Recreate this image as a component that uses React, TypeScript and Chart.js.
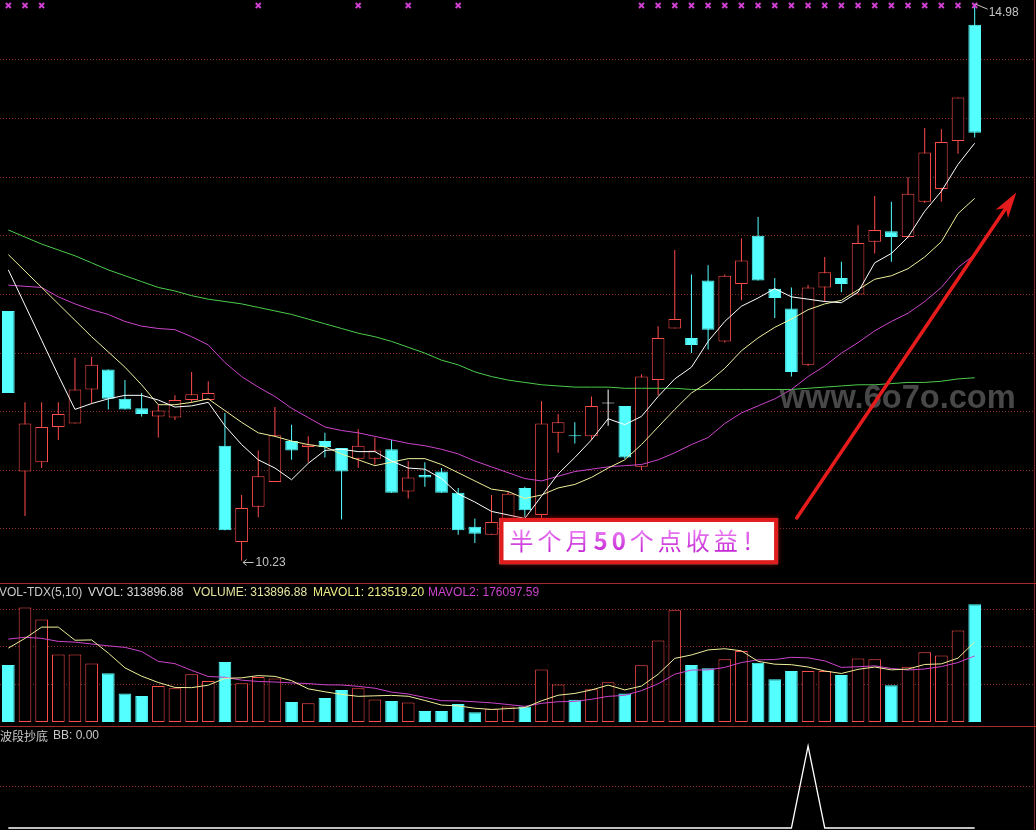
import React, { useEffect, useRef } from 'react';
import { Chart, registerables } from 'chart.js';

Chart.register(...registerables);

// ---------------- data ----------------
const SLOTS = 62;
const labels = Array.from({ length: SLOTS }, (_, i) => String(i + 1));

const openP = [12.36, 10.99, 11.07, 11.37, 11.40, 11.69, 11.86, 11.61, 11.53, 11.46,
  11.45, 11.60, 11.60, 11.21, 10.39, 10.69, 10.90, 11.25, 11.20, 11.25,
  11.19, 11.10, 11.10, 11.18, 10.82, 10.96, 10.99, 10.81, 10.52, 10.45,
  10.58, 10.85, 10.62, 11.32, 11.30, 11.29, 11.57, 11.55, 11.03, 11.77,
  12.21, 12.13, 12.62, 12.10, 12.59, 13.00, 12.55, 12.38, 11.90, 12.56,
  12.64, 12.50, 12.95, 13.04, 12.99, 13.29, 13.40, 13.81, 14.80];
const closeP = [11.66, 11.40, 11.37, 11.48, 11.69, 11.90, 11.61, 11.52, 11.48, 11.51,
  11.60, 11.65, 11.66, 10.49, 10.68, 10.95, 11.30, 11.17, 11.22, 11.20,
  10.99, 11.21, 11.17, 10.81, 10.94, 10.94, 10.81, 10.49, 10.46, 10.56,
  10.80, 10.66, 11.40, 11.41, 11.29, 11.55, 11.57, 11.11, 11.80, 12.13,
  12.29, 12.07, 12.20, 12.66, 12.79, 12.62, 12.47, 11.84, 12.56, 12.69,
  12.59, 12.94, 13.05, 12.99, 13.36, 13.71, 13.80, 14.18, 13.88];
const highP = [12.36, 11.58, 11.58, 11.58, 11.96, 11.97, 11.86, 11.77, 11.66, 11.56,
  11.64, 11.84, 11.76, 11.49, 10.79, 11.17, 11.54, 11.39, 11.29, 11.32,
  11.19, 11.35, 11.28, 11.26, 11.08, 11.07, 11.02, 10.85, 10.59, 10.79,
  10.82, 10.86, 11.59, 11.48, 11.41, 11.63, 11.69, 11.55, 11.82, 12.23,
  12.88, 12.67, 12.75, 12.67, 12.98, 13.16, 12.64, 12.56, 12.58, 12.82,
  12.78, 13.09, 13.34, 13.29, 13.50, 13.92, 13.91, 14.18, 14.98];
const lowP = [11.66, 10.61, 11.02, 11.26, 11.40, 11.57, 11.52, 11.52, 11.46, 11.28,
  11.43, 11.58, 11.60, 10.49, 10.23, 10.60, 10.90, 11.09, 11.07, 11.11,
  10.58, 11.02, 11.05, 10.81, 10.76, 10.86, 10.81, 10.45, 10.38, 10.45,
  10.55, 10.60, 10.55, 11.15, 11.23, 11.26, 11.38, 11.10, 11.00, 11.64,
  12.21, 12.00, 12.03, 12.09, 12.45, 12.62, 12.30, 11.80, 11.89, 12.44,
  12.52, 12.50, 12.85, 12.78, 12.98, 13.28, 13.29, 13.70, 13.84];

const ma5 = [12.71, 12.41, 12.11, 11.81, 11.52, 11.57, 11.61, 11.64, 11.64, 11.60,
  11.54, 11.55, 11.58, 11.38, 11.22, 11.09, 11.02, 10.92, 11.06, 11.17,
  11.18, 11.16, 11.16, 11.08, 11.02, 11.01, 10.93, 10.80, 10.73, 10.65,
  10.62, 10.59, 10.78, 10.97, 11.11, 11.26, 11.44, 11.39, 11.46, 11.63,
  11.78, 11.88, 12.10, 12.27, 12.40, 12.47, 12.55, 12.48, 12.46, 12.44,
  12.43, 12.52, 12.77, 12.85, 12.99, 13.21, 13.38, 13.61, 13.79];
const ma10 = [12.84, 12.70, 12.56, 12.42, 12.28, 12.14, 12.01, 11.88, 11.73, 11.56,
  11.56, 11.58, 11.61, 11.51, 11.41, 11.32, 11.29, 11.25, 11.22, 11.20,
  11.14, 11.09, 11.04, 11.07, 11.10, 11.10, 11.05, 10.98, 10.91, 10.84,
  10.82, 10.76, 10.79, 10.85, 10.88, 10.94, 11.02, 11.09, 11.22, 11.37,
  11.52, 11.66, 11.75, 11.87, 12.02, 12.13, 12.22, 12.29, 12.37, 12.42,
  12.45, 12.54, 12.63, 12.66, 12.72, 12.82, 12.95, 13.19, 13.32];
const ma20 = [12.58, 12.57, 12.56, 12.48, 12.42, 12.37, 12.33, 12.27, 12.23, 12.21,
  12.20, 12.14, 12.07, 11.92, 11.80, 11.71, 11.63, 11.53, 11.45, 11.37,
  11.34, 11.32, 11.29, 11.26, 11.23, 11.21, 11.18, 11.14, 11.08, 11.03,
  10.98, 10.93, 10.91, 10.95, 10.99, 11.01, 11.03, 11.04, 11.05, 11.09,
  11.15, 11.22, 11.28, 11.40, 11.49, 11.55, 11.61, 11.69, 11.80, 11.89,
  12.00, 12.09, 12.19, 12.27, 12.34, 12.44, 12.56, 12.73, 12.84];
const ma60 = [13.05, 12.99, 12.93, 12.88, 12.83, 12.77, 12.71, 12.66, 12.61, 12.56,
  12.53, 12.49, 12.46, 12.44, 12.42, 12.39, 12.36, 12.33, 12.29, 12.25,
  12.21, 12.17, 12.14, 12.10, 12.05, 12.00, 11.94, 11.90, 11.84, 11.80,
  11.77, 11.75, 11.73, 11.72, 11.71, 11.71, 11.71, 11.70, 11.70, 11.70,
  11.70, 11.69, 11.69, 11.69, 11.69, 11.69, 11.69, 11.69, 11.70, 11.71,
  11.72, 11.73, 11.73, 11.74, 11.75, 11.75, 11.76, 11.78, 11.79];

const volume = [152000, 305000, 273000, 180000, 180000, 156000, 130000, 76000, 69000, 96000,
  90000, 127000, 109000, 160000, 103000, 120000, 116000, 53000, 50000, 64000,
  85000, 90000, 60000, 56000, 52000, 29000, 29000, 48000, 26000, 35000,
  41000, 41000, 140000, 100000, 59000, 87000, 106000, 76000, 151000, 217000,
  298000, 152000, 143000, 167000, 189000, 158000, 114000, 136000, 136000, 136000,
  125000, 169000, 167000, 98000, 147000, 186000, 177000, 244000, 313896.88];
const mavol1 = [197000, 223000, 253000, 253000, 218000, 218800, 183800, 144400, 122200, 105400,
  92200, 91600, 98200, 116400, 117800, 123800, 121600, 110400, 88400, 80600,
  73600, 68400, 69800, 71000, 68600, 57400, 45200, 42800, 36800, 33400,
  35800, 38200, 56600, 71400, 76200, 85400, 98400, 85600, 95800, 127400,
  169600, 178800, 192200, 195400, 189800, 161800, 154200, 152800, 146600, 136000,
  129400, 140400, 146600, 139000, 141200, 153400, 155000, 170400, 213519.20];
const mavol2 = [221000, 226000, 223000, 215000, 213000, 208000, 203000, 199000, 188000, 161700,
  155500, 137700, 121300, 119300, 111600, 108000, 106600, 104300, 102400, 99200,
  98700, 95000, 90100, 79700, 74600, 65500, 56800, 56300, 53900, 51000,
  46600, 41700, 49700, 54100, 54800, 60600, 68300, 71100, 83600, 101800,
  127500, 138600, 138900, 145600, 158600, 165700, 166500, 172500, 171000, 162900,
  145600, 147300, 149700, 142800, 138600, 141400, 147700, 158500, 176097.59];

const bb = [0, 0, 0, 0, 0, 0, 0, 0, 0, 0,
  0, 0, 0, 0, 0, 0, 0, 0, 0, 0,
  0, 0, 0, 0, 0, 0, 0, 0, 0, 0,
  0, 0, 0, 0, 0, 0, 0, 0, 0, 0,
  0, 0, 0, 0, 0, 0, 0, 0, 1, 0,
  0, 0, 0, 0, 0, 0, 0, 0, 0];

const signalBars = [0, 1, 2, 15, 21, 24, 27, 38, 39, 40, 41, 42, 43, 44, 45, 46, 47, 48,
  49, 50, 51, 52, 53, 54, 55, 56, 57, 58];
const SIGNAL_LEVEL = 14.965;

const priceGrid = [10.5, 11, 11.5, 12, 12.5, 13, 13.5, 14, 14.5];
const volumeGrid = [100000, 200000, 300000];
const bbGrid = [0.5];

const noteParts: [string, boolean][] = [['半个月', false], ['50', true], ['个点收益！', false]];
const watermark = 'www.6o7o.com';
// annotation anchors in data units (bar index, value)
const NOTE_BOX = { from: 29.48, to: 46.2, top: 10.594, bottom: 10.2 };
const TREND_ARROW = { from: [47.32, 10.594], to: [60.5, 13.37] };
const WATERMARK_AT = [46.3, 11.53];

// ---------------- styles ----------------
const UP = '#ff4c4c';
const DOWN = '#54ffff';
const FLAT = '#ffffff';
const GRID = '#8a2a2a';
const SEP = '#a52a2a';
const EDGE = '#7a2424';
const LABEL = '#c4c4c4';
const W = 1036;
const MAIN_H = 584;
const VOL_H = 143;
const BB_H = 103;
const SANS = '"Liberation Sans", Arial, sans-serif';
const CJK = '"Noto Sans CJK SC", "Noto Sans", sans-serif';

const candleColor = (i: number) =>
  closeP[i] > openP[i] ? UP : closeP[i] < openP[i] ? DOWN : FLAT;
const volColor = (i: number) => (closeP[i] >= openP[i] ? UP : DOWN);

const baseOptions = (padBottom: number) => ({
  animation: false as const,
  responsive: false,
  devicePixelRatio: 1,
  events: [] as any[],
  layout: { autoPadding: false, padding: { left: 0, right: 3, top: 0, bottom: padBottom } },
  plugins: { legend: { display: false }, tooltip: { enabled: false } },
});

const yAxis = (min: number, max: number, grid: number[]) => ({
  type: 'linear' as const,
  min,
  max,
  afterBuildTicks: (s: any) => {
    s.ticks = grid.map((v) => ({ value: v }));
  },
  afterFit: (s: any) => {
    s.width = 0;
  },
  ticks: { display: false, padding: 0 },
  grid: { color: GRID, lineWidth: 1, drawTicks: false, tickLength: 0 },
  border: { display: false, dash: [1, 2] },
});

const xAxis = { type: 'category' as const, display: false, offset: true };

const mainOverlay = {
  id: 'mainOverlay',
  afterDraw(chart: any) {
    const { ctx } = chart;
    const x = chart.scales.x;
    const y = chart.scales.y;
    ctx.save();
    ctx.fillStyle = SEP;
    ctx.fillRect(0, MAIN_H - 1, W, 1);
    ctx.fillStyle = EDGE;
    ctx.fillRect(1034, 0, 1, MAIN_H - 1);

    // lowest low label
    const minLow = Math.min(...lowP);
    const li = lowP.indexOf(minLow);
    const lx = x.getPixelForValue(li);
    const ly = Math.round(y.getPixelForValue(minLow)) + 1.5;
    ctx.strokeStyle = LABEL;
    ctx.lineWidth = 1;
    ctx.beginPath();
    ctx.moveTo(lx + 1.5, ly);
    ctx.lineTo(lx + 12, ly);
    ctx.moveTo(lx + 1.5, ly);
    ctx.lineTo(lx + 5, ly - 3);
    ctx.moveTo(lx + 1.5, ly);
    ctx.lineTo(lx + 5, ly + 3);
    ctx.stroke();
    ctx.fillStyle = LABEL;
    ctx.font = `12px ${SANS}`;
    ctx.textBaseline = 'middle';
    ctx.fillText(minLow.toFixed(2), lx + 14, ly);

    // highest high label
    const maxHigh = Math.max(...highP);
    const hi = highP.indexOf(maxHigh);
    const hx = x.getPixelForValue(hi);
    const hy = y.getPixelForValue(maxHigh);
    ctx.beginPath();
    ctx.moveTo(hx + 1, hy + 0.5);
    ctx.lineTo(hx + 13, hy + 5.5);
    ctx.stroke();
    ctx.fillText(maxHigh.toFixed(2), hx + 14, hy + 9);

    // watermark
    ctx.font = `bold 33px ${SANS}`;
    ctx.textBaseline = 'alphabetic';
    ctx.fillStyle = 'rgba(100,100,100,0.72)';
    ctx.fillText(watermark, x.getPixelForValue(WATERMARK_AT[0]), y.getPixelForValue(WATERMARK_AT[1]), 236);

    // red trend arrow
    const ax0 = x.getPixelForValue(TREND_ARROW.from[0]);
    const ay0 = y.getPixelForValue(TREND_ARROW.from[1]);
    const ax1 = x.getPixelForValue(TREND_ARROW.to[0]);
    const ay1 = y.getPixelForValue(TREND_ARROW.to[1]);
    const ang = Math.atan2(ay1 - ay0, ax1 - ax0);
    const c = Math.cos(ang);
    const s = Math.sin(ang);
    const headLen = 26;
    const headW = 7.5;
    ctx.strokeStyle = '#e61c1c';
    ctx.fillStyle = '#e61c1c';
    ctx.lineWidth = 3.5;
    ctx.lineCap = 'round';
    ctx.beginPath();
    ctx.moveTo(ax0, ay0);
    ctx.lineTo(ax1 - c * (headLen - 8), ay1 - s * (headLen - 8));
    ctx.stroke();
    const bxh = ax1 - c * headLen;
    const byh = ay1 - s * headLen;
    ctx.beginPath();
    ctx.moveTo(ax1, ay1);
    ctx.lineTo(bxh - s * headW, byh + c * headW);
    ctx.lineTo(ax1 - c * headLen * 0.72, ay1 - s * headLen * 0.72);
    ctx.lineTo(bxh + s * headW, byh - c * headW);
    ctx.closePath();
    ctx.fill();

    // note box
    const bx0 = x.getPixelForValue(NOTE_BOX.from);
    const bx1 = x.getPixelForValue(NOTE_BOX.to);
    const by0 = y.getPixelForValue(NOTE_BOX.top);
    const by1 = y.getPixelForValue(NOTE_BOX.bottom);
    ctx.save();
    ctx.shadowColor = 'rgba(170,0,0,0.7)';
    ctx.shadowBlur = 6;
    ctx.fillStyle = '#ffffff';
    ctx.fillRect(bx0, by0, bx1 - bx0, by1 - by0);
    ctx.restore();
    ctx.strokeStyle = '#e01c1c';
    ctx.lineWidth = 4;
    ctx.strokeRect(bx0 + 2, by0 + 2, bx1 - bx0 - 4, by1 - by0 - 4);
    const grad = ctx.createLinearGradient(0, by0 + 10, 0, by1 - 10);
    grad.addColorStop(0, '#ee84f6');
    grad.addColorStop(1, '#c01ed0');
    ctx.fillStyle = grad;
    ctx.textBaseline = 'middle';
    (ctx as any).letterSpacing = '4px';
    let tx = bx0 + 10;
    const ty = (by0 + by1) / 2;
    for (const [t, bold] of noteParts) {
      ctx.font = `${bold ? 'bold ' : ''}24px ${CJK}`;
      ctx.fillText(t, tx, ty);
      tx += ctx.measureText(t).width;
    }
    (ctx as any).letterSpacing = '0px';
    ctx.restore();
  },
};

const volOverlay = {
  id: 'volOverlay',
  afterDraw(chart: any) {
    const { ctx } = chart;
    ctx.save();
    ctx.fillStyle = SEP;
    ctx.fillRect(0, VOL_H - 1, W, 1);
    ctx.fillStyle = EDGE;
    ctx.fillRect(1034, 0, 1, VOL_H - 1);
    const last = volume.length - 1;
    const items: [string, number, string][] = [
      ['VOL-TDX(5,10)', -1, '#c8c8c8'],
      [`VVOL: ${volume[last].toFixed(2)}`, 88, '#dadada'],
      [`VOLUME: ${volume[last].toFixed(2)}`, 193, '#e6e6a0'],
      [`MAVOL1: ${mavol1[last].toFixed(2)}`, 313, '#eeee88'],
      [`MAVOL2: ${mavol2[last].toFixed(2)}`, 428, '#cc44cc'],
    ];
    ctx.font = `12px ${SANS}`;
    ctx.textBaseline = 'middle';
    for (const [t, tx, col] of items) {
      ctx.fillStyle = col;
      ctx.fillText(t, tx, 8.5);
    }
    ctx.restore();
  },
};

const bbOverlay = {
  id: 'bbOverlay',
  afterDraw(chart: any) {
    const { ctx } = chart;
    ctx.save();
    ctx.fillStyle = EDGE;
    ctx.fillRect(1034, 0, 1, BB_H);
    ctx.fillStyle = '#c8c8c8';
    ctx.textBaseline = 'middle';
    ctx.font = `12px ${CJK}`;
    ctx.fillText('波段抄底', 0, 9);
    ctx.font = `12px ${SANS}`;
    ctx.fillText(`BB: ${bb[bb.length - 1].toFixed(2)}`, 53, 9);
    ctx.restore();
  },
};

const line = (label: string, data: number[], color: string, order: number) => ({
  type: 'line' as const,
  label,
  data,
  borderColor: color,
  borderWidth: 1,
  pointRadius: 0,
  tension: 0,
  order,
});

export default function App() {
  const mainRef = useRef<HTMLCanvasElement>(null);
  const volRef = useRef<HTMLCanvasElement>(null);
  const bbRef = useRef<HTMLCanvasElement>(null);

  useEffect(() => {
    document.body.style.margin = '0';
    document.body.style.background = '#000';
    const n = openP.length;
    const idx = Array.from({ length: n }, (_, i) => i);
    const signalData = idx.map((i) => (signalBars.includes(i) ? SIGNAL_LEVEL : null));

    const main = new Chart(mainRef.current as HTMLCanvasElement, {
      type: 'bar',
      data: {
        labels,
        datasets: [
          line('MA5', ma5, '#ffffff', 1),
          line('MA10', ma10, '#f0f09a', 1),
          line('MA20', ma20, '#cc44cc', 2),
          line('MA60', ma60, '#4ccc4c', 3),
          {
            type: 'line',
            label: 'signal',
            data: signalData,
            showLine: false,
            pointStyle: 'crossRot',
            pointRadius: 3.5,
            pointBorderWidth: 2,
            pointBorderColor: '#d040d0',
            pointBackgroundColor: '#d040d0',
            order: 0,
          },
          {
            type: 'bar',
            label: 'body',
            data: idx.map((i) => [openP[i], closeP[i]]),
            backgroundColor: idx.map((i) => (candleColor(i) === UP ? '#000000' : candleColor(i))),
            borderColor: idx.map((i) => candleColor(i)),
            borderWidth: 1,
            borderSkipped: false,
            grouped: false,
            barPercentage: 0.76,
            categoryPercentage: 1,
            minBarLength: 1,
            inflateAmount: 0,
            order: 5,
          },
          {
            type: 'bar',
            label: 'wick',
            data: idx.map((i) => [lowP[i], highP[i]]),
            backgroundColor: idx.map((i) => candleColor(i)),
            borderWidth: 0,
            barThickness: 1,
            grouped: false,
            inflateAmount: 0,
            order: 6,
          },
        ] as any,
      },
      options: {
        ...baseOptions(1),
        scales: { x: xAxis, y: yAxis(10.0394, 15.0117, priceGrid) },
      } as any,
      plugins: [mainOverlay],
    });

    const vol = new Chart(volRef.current as HTMLCanvasElement, {
      type: 'bar',
      data: {
        labels,
        datasets: [
          line('MAVOL1', mavol1, '#f0f09a', 1),
          line('MAVOL2', mavol2, '#cc44cc', 2),
          {
            type: 'bar',
            label: 'VOLUME',
            data: volume,
            backgroundColor: idx.map((i) => (volColor(i) === UP ? '#000000' : DOWN)),
            borderColor: idx.map((i) => volColor(i)),
            borderWidth: 1,
            borderSkipped: false,
            grouped: false,
            barPercentage: 0.76,
            categoryPercentage: 1,
            inflateAmount: 0,
            order: 5,
          },
        ] as any,
      },
      options: {
        ...baseOptions(1),
        scales: { x: xAxis, y: yAxis(-10667, 368000, volumeGrid) },
      } as any,
      plugins: [volOverlay],
    });

    const bbChart = new Chart(bbRef.current as HTMLCanvasElement, {
      type: 'line',
      data: {
        labels,
        datasets: [
          { ...line('BB', bb, '#ffffff', 1), borderWidth: 1.3 },
        ] as any,
      },
      options: {
        ...baseOptions(0),
        scales: { x: xAxis, y: yAxis(-0.0244, 1.2317, bbGrid) },
      } as any,
      plugins: [bbOverlay],
    });

    return () => {
      main.destroy();
      vol.destroy();
      bbChart.destroy();
    };
  }, []);

  const cv = (top: number): React.CSSProperties => ({ position: 'absolute', left: 0, top, display: 'block' });

  return (
    <div style={{ position: 'relative', width: W, height: 830, background: '#000', overflow: 'hidden' }}>
      <canvas ref={mainRef} width={W} height={MAIN_H} style={cv(0)} />
      <canvas ref={volRef} width={W} height={VOL_H} style={cv(MAIN_H)} />
      <canvas ref={bbRef} width={W} height={BB_H} style={cv(MAIN_H + VOL_H)} />
    </div>
  );
}
